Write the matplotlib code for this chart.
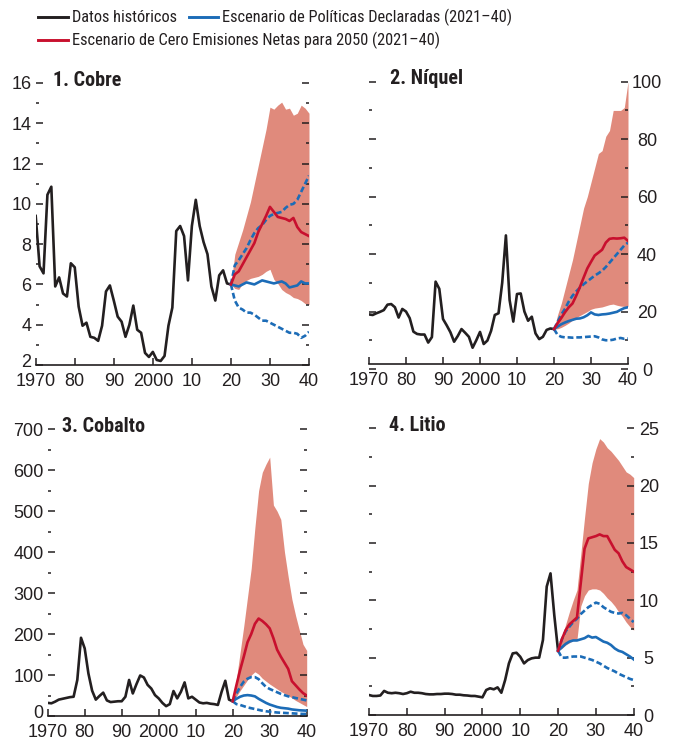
import matplotlib
matplotlib.use('Agg')
import matplotlib.pyplot as plt
from matplotlib import font_manager
from matplotlib.font_manager import FontProperties
from matplotlib.lines import Line2D
from matplotlib.ticker import MultipleLocator
from matplotlib.transforms import ScaledTranslation

plt.rcParams['font.family'] = ['Liberation Sans', 'DejaVu Sans']

hist_years = list(range(1970, 2021))
proj_years = list(range(2020, 2041))
xtick_labels = ['1970', '80', '90', '2000', '10', '20', '30', '40']

# 1. Cobre
cu_hist = [9.4, 6.9, 6.55, 10.45, 10.85, 5.9, 6.35, 5.55, 5.4, 7.05,
           6.85, 4.9, 3.95, 4.1, 3.4, 3.35, 3.2, 3.95, 5.65, 5.95,
           5.2, 4.4, 4.15, 3.4, 4.0, 4.95, 3.75, 3.6, 2.6, 2.4,
           2.65, 2.25, 2.2, 2.45, 3.95, 4.85, 8.65, 8.9, 8.4, 6.2,
           8.9, 10.2, 8.9, 8.1, 7.5, 5.9, 5.2, 6.45, 6.7, 6.05, 6.0]
cu_steps = [6.0, 5.95, 5.9, 6.0, 6.1, 6.05, 6.0, 6.1, 6.2, 6.15, 6.1,
            6.05, 6.1, 6.15, 6.05, 5.85, 5.9, 5.95, 6.15, 6.05, 6.05]
cu_steps_hi = [6.0, 6.95, 7.2, 7.5, 7.8, 8.2, 8.55, 8.8, 8.95, 9.2, 9.4,
               9.5, 9.55, 9.6, 9.8, 9.95, 10.0, 10.2, 10.6, 11.0, 11.4]
cu_steps_lo = [6.0, 5.2, 4.85, 4.75, 4.6, 4.6, 4.5, 4.35, 4.2, 4.2, 4.1,
               4.0, 3.9, 3.8, 3.7, 3.6, 3.6, 3.55, 3.35, 3.45, 3.65]
cu_nze = [6.0, 6.5, 6.65, 7.0, 7.35, 7.7, 8.05, 8.6, 9.0, 9.4, 9.85,
          9.6, 9.35, 9.3, 9.25, 9.15, 9.3, 8.85, 8.6, 8.5, 8.4]
cu_nze_hi = [6.0, 7.5, 8.1, 8.7, 9.4, 10.1, 11.0, 11.9, 12.8, 13.7, 14.8,
             14.7, 14.9, 15.05, 14.7, 14.75, 14.4, 14.5, 14.9, 14.75, 14.5]
cu_nze_lo = [6.0, 5.8, 5.75, 6.05, 6.2, 6.3, 6.35, 6.4, 6.5, 6.65, 6.75,
             6.25, 6.05, 5.75, 5.6, 5.5, 5.35, 5.3, 5.2, 5.05, 5.0]

# 2. Níquel
ni_hist = [19.0, 18.8, 19.4, 19.9, 20.5, 22.4, 22.6, 21.5, 17.9, 20.9,
           20.0, 17.7, 13.0, 12.2, 12.0, 12.0, 9.2, 11.1, 30.4, 27.9,
           17.4, 15.2, 12.8, 9.5, 11.5, 13.9, 12.6, 11.2, 7.4, 10.0,
           12.9, 8.7, 9.9, 13.3, 18.8, 19.4, 30.0, 46.5, 24.0, 16.5,
           26.1, 26.3, 20.0, 16.8, 18.2, 12.4, 10.4, 11.2, 13.6, 14.1, 13.9]
ni_steps = [13.9, 14.8, 15.6, 16.2, 16.7, 17.1, 17.5, 17.6, 18.0, 18.7, 19.7,
            19.0, 18.8, 19.0, 19.1, 19.3, 19.6, 19.9, 20.6, 21.2, 21.5]
ni_steps_hi = [13.9, 16.5, 19.0, 21.0, 23.5, 25.5, 27.0, 28.3, 29.5, 30.5, 31.5,
               32.5, 33.3, 34.2, 35.5, 37.0, 38.5, 40.0, 41.5, 43.0, 44.0]
ni_steps_lo = [13.9, 11.8, 11.2, 11.0, 11.0, 10.9, 11.0, 11.0, 11.1, 11.2, 11.3,
               11.4, 11.0, 10.3, 10.0, 10.0, 10.2, 10.6, 10.8, 10.5, 10.6]
ni_nze = [13.9, 16.0, 17.8, 19.8, 21.5, 22.8, 25.5, 28.5, 31.8, 35.0, 37.3,
          39.5, 40.5, 41.5, 44.0, 45.3, 45.5, 45.4, 45.5, 45.7, 44.6]
ni_nze_hi = [13.9, 19, 23, 28, 33, 38, 44, 50, 56, 60, 65,
             70, 75, 76, 81, 83, 90, 90, 90, 91, 100]
ni_nze_lo = [13.9, 14.0, 14.5, 15.2, 16.0, 17.0, 17.8, 18.6, 19.3, 20.0, 20.8,
             21.2, 21.4, 21.6, 22.0, 22.4, 22.6, 22.2, 21.9, 21.8, 21.8]

# 3. Cobalto
co_hist = [32, 31, 35, 40, 42, 44, 46, 47, 88, 191,
           165, 104, 62, 40, 49, 57, 38, 34, 35, 36,
           36, 47, 88, 55, 78, 99, 94, 76, 67, 51,
           43, 32, 24, 29, 61, 43, 59, 82, 43, 47,
           40, 33, 31, 32, 30, 29, 27, 59, 86, 40, 36]
co_steps = [36, 42, 47, 50, 51, 50, 48, 42, 37, 32, 28,
            25, 22, 20, 19, 18, 16, 15, 14, 13.5, 13]
co_steps_hi = [36, 55, 71, 84, 91, 95, 95, 90, 80, 71, 66,
               62, 58, 54, 51, 48, 46, 44, 42, 40, 38]
co_steps_lo = [36, 29, 27, 24, 21, 19, 17, 15, 13, 11.5, 10.5,
               9.5, 8.5, 8, 7.5, 7, 6.5, 6, 5.5, 5, 5]
co_nze = [36, 75, 112, 145, 180, 200, 225, 238, 232, 224, 214,
          190, 162, 145, 130, 115, 85, 75, 65, 56, 50]
co_nze_hi = [36, 90, 155, 220, 290, 360, 460, 550, 595, 615, 632,
             515, 500, 480, 400, 340, 285, 245, 210, 175, 160]
co_nze_lo = [36, 48, 62, 75, 88, 100, 108, 102, 92, 85, 78,
             72, 66, 60, 55, 50, 44, 38, 33, 28, 23]

# 4. Litio
li_hist = [1.74, 1.66, 1.66, 1.7, 2.1, 1.94, 1.9, 1.94, 1.9, 1.83,
           1.9, 2.03, 1.94, 1.94, 1.9, 1.83, 1.8, 1.8, 1.83, 1.83,
           1.86, 1.86, 1.83, 1.77, 1.77, 1.72, 1.7, 1.66, 1.66, 1.6,
           1.54, 2.18, 2.33, 2.24, 2.41, 1.94, 3.05, 4.5, 5.37, 5.43,
           5.08, 4.5, 4.79, 4.94, 5.0, 5.0, 6.54, 11.2, 12.35, 8.7, 5.6]
li_steps = [5.6, 5.9, 6.2, 6.4, 6.5, 6.5, 6.6, 6.7, 6.9, 6.75, 6.8,
            6.6, 6.4, 6.3, 6.1, 5.8, 5.6, 5.5, 5.3, 5.1, 4.85]
li_steps_hi = [5.6, 6.6, 7.3, 7.7, 8.1, 8.4, 8.8, 9.1, 9.4, 9.6, 9.8,
               9.7, 9.4, 9.2, 9.0, 8.9, 8.85, 8.9, 8.7, 8.4, 8.1]
li_steps_lo = [5.6, 5.0, 5.0, 5.05, 5.1, 5.1, 5.1, 5.0, 4.9, 4.8, 4.65,
               4.5, 4.3, 4.1, 3.95, 3.8, 3.6, 3.45, 3.3, 3.15, 3.05]
li_nze = [5.6, 6.6, 7.4, 7.9, 8.2, 8.5, 11.5, 14.5, 15.4, 15.5, 15.6,
          15.75, 15.6, 15.6, 15.0, 14.4, 14.1, 13.4, 12.9, 12.7, 12.5]
li_nze_hi = [5.6, 6.8, 7.9, 9.0, 10.0, 10.9, 14.0, 17.2, 20.2, 22.0, 23.2,
             24.1, 23.8, 23.3, 23.0, 22.6, 22.2, 21.7, 21.2, 21.0, 20.7]
li_nze_lo = [5.6, 5.8, 6.1, 6.3, 6.5, 6.6, 9.5, 10.4, 10.9, 11.0, 11.0,
             10.9, 10.6, 10.2, 9.9, 9.5, 9.0, 8.6, 8.1, 7.7, 7.4]

BLACK = '#231f20'
BLUE = '#1c6cb7'
RED = '#c8102e'
BAND = '#e08a7c'
LW = 1.9


# look for a narrow/condensed font file, the original uses a condensed face
def find_narrow(bold):
    best = None
    for f in font_manager.fontManager.ttflist:
        fn = f.fname.lower()
        if not ('narrow' in fn or 'condensed' in fn or 'cond' in f.name.lower()):
            continue
        if 'italic' in fn or 'oblique' in fn or f.style != 'normal':
            continue
        w = f.weight if isinstance(f.weight, int) else (700 if 'bold' in str(f.weight) else 400)
        if bold and w < 600:
            continue
        if not bold and w != 400:
            continue
        if 'semi' in fn or 'extra' in fn:
            continue
        rank = 9
        for i, key in enumerate(['liberation', 'roboto', 'opensans', 'open', 'noto', 'dejavu']):
            if key in fn:
                rank = i
                break
        if best is None or rank < best[0]:
            best = (rank, f.fname)
    return best[1] if best else None


narrow_reg = find_narrow(False)
narrow_bold = find_narrow(True)


def narrow_font(size, bold=False):
    path = narrow_bold if bold else narrow_reg
    if path:
        return FontProperties(fname=path, size=size)
    return FontProperties(family='Liberation Sans', size=size * 0.8,
                          weight='bold' if bold else 'normal')


fig = plt.figure(figsize=(6.74, 7.42), dpi=100)
W, H = 674.0, 742.0


def draw_panel(ax, hist, steps, steps_lo, steps_hi, nze, nze_lo, nze_hi,
               title, title_x, ylim, major, minor, side, rpad):
    ax.fill_between(proj_years, nze_lo, nze_hi, color=BAND, lw=0, zorder=1)
    ax.plot(hist_years, hist, color=BLACK, lw=LW, zorder=3)
    ax.plot(proj_years, steps_hi, color=BLUE, lw=LW, dashes=(2.2, 1.1), zorder=4)
    ax.plot(proj_years, steps_lo, color=BLUE, lw=LW, dashes=(2.2, 1.1), zorder=4)
    ax.plot(proj_years, steps, color=BLUE, lw=LW, zorder=4)
    ax.plot(proj_years, nze, color=RED, lw=LW, zorder=5)

    ax.set_xlim(1970, 2040)
    ax.set_xticks(range(1970, 2041, 10))
    ax.set_xticklabels(xtick_labels)
    ax.set_ylim(*ylim)
    ax.yaxis.set_major_locator(MultipleLocator(major))
    ax.yaxis.set_minor_locator(MultipleLocator(minor))

    for s in ['top', 'left', 'right']:
        ax.spines[s].set_visible(False)
    ax.spines['bottom'].set_color(BLACK)
    ax.spines['bottom'].set_linewidth(1.2)

    ax.tick_params(axis='x', direction='in', length=5, width=1.1, color=BLACK,
                   labelsize=13, labelcolor=BLACK, pad=5.5, top=False)
    ax.tick_params(axis='y', which='both', direction='in', left=True, right=True,
                   labelleft=(side == 'left'), labelright=(side == 'right'),
                   color=BLACK, labelsize=13, labelcolor=BLACK, width=1.1)
    ax.tick_params(axis='y', which='major', length=5, pad=3 if side == 'left' else rpad)
    ax.tick_params(axis='y', which='minor', length=2.2)

    locs = list(ax.yaxis.get_majorticklocs())
    ticks = ax.yaxis.get_major_ticks(len(locs))
    if side == 'right':
        for t in ticks:
            t.label2.set_horizontalalignment('center')
    else:
        # lift the lowest y label a little so it clears the 1970 label
        low = min(range(len(locs)), key=lambda i: abs(locs[i] - ylim[0]))
        lift = ScaledTranslation(0, 3 / 72, fig.dpi_scale_trans)
        lab = ticks[low].label1
        lab.set_transform(lab.get_transform() + lift)

    ax.text(title_x, 1.01, title, transform=ax.transAxes, fontproperties=narrow_font(14.5, True),
            color=BLACK, ha='left', va='center')


def add_axes(left, right, top, bottom):
    return fig.add_axes([left / W, 1 - bottom / H, (right - left) / W, (bottom - top) / H])


ax1 = add_axes(35.7, 309, 83, 365)
ax2 = add_axes(369, 628, 81.7, 369)
ax3 = add_axes(47.7, 306.7, 429.3, 716)
ax4 = add_axes(369, 633.7, 428.3, 715)

ax2.spines['bottom'].set_position(('data', 1.7))
draw_panel(ax1, cu_hist, cu_steps, cu_steps_lo, cu_steps_hi, cu_nze, cu_nze_lo, cu_nze_hi,
           '1. Cobre', 0.063, (2, 16), 2, 1, 'left', 0)
draw_panel(ax2, ni_hist, ni_steps, ni_steps_lo, ni_steps_hi, ni_nze, ni_nze_lo, ni_nze_hi,
           '2. Níquel', 0.082, (0, 100), 20, 10, 'right', 13.7)
draw_panel(ax3, co_hist, co_steps, co_steps_lo, co_steps_hi, co_nze, co_nze_lo, co_nze_hi,
           '3. Cobalto', 0.054, (0, 700), 100, 50, 'left', 0)
draw_panel(ax4, li_hist, li_steps, li_steps_lo, li_steps_hi, li_nze, li_nze_lo, li_nze_hi,
           '4. Litio', 0.074, (0, 25), 5, 2.5, 'right', 10.8)

# legend drawn by hand to keep the original two-row layout
legend_items = [
    (BLACK, 38, 68, 17, 'Datos históricos'),
    (BLUE, 189, 218, 17, 'Escenario de Políticas Declaradas (2021–40)'),
    (RED, 38, 68, 40, 'Escenario de Cero Emisiones Netas para 2050 (2021–40)'),
]
for color, x0, x1, y, label in legend_items:
    fig.add_artist(Line2D([x0 / W, x1 / W], [1 - y / H, 1 - y / H], color=color, lw=LW + 0.2))
    fig.text((x1 + 4) / W, 1 - y / H, label, fontproperties=narrow_font(11.8), color=BLACK,
             ha='left', va='center')

fig.savefig('out.png', dpi=100)
